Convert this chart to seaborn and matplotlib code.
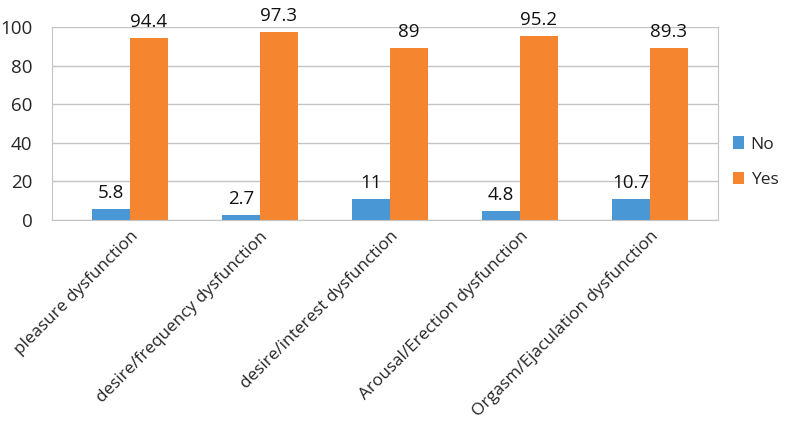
import pandas as pd
import seaborn as sns
import matplotlib.pyplot as plt

# data
categories = ["pleasure dysfunction", "desire/frequency dysfunction",
              "desire/interest dysfunction", "Arousal/Erection dysfunction",
              "Orgasm/Ejaculation dysfunction"]
no_values = [5.8, 2.7, 11, 4.8, 10.7]
yes_values = [94.4, 97.3, 89, 95.2, 89.3]
no_labels = ["5.8", "2.7", "11", "4.8", "10.7"]
yes_labels = ["94.4", "97.3", "89", "95.2", "89.3"]

df = pd.DataFrame({
    "category": categories * 2,
    "value": no_values + yes_values,
    "answer": ["No"] * 5 + ["Yes"] * 5,
})

sns.set_style("white")
plt.rcParams["font.family"] = ["Open Sans", "DejaVu Sans"]

fig = plt.figure(figsize=(7.87, 4.23), dpi=100)
ax = fig.add_axes([0.066, 0.48, 0.846, 0.456])

palette = {"No": "#4a97d6", "Yes": "#f5862f"}
sns.barplot(data=df, x="category", y="value", hue="answer", palette=palette,
            width=0.58, saturation=1, edgecolor="none", ax=ax)

# value labels above the bars
for cont, labs in zip(ax.containers, [no_labels, yes_labels]):
    ax.bar_label(cont, labels=labs, padding=5, fontsize=13.5, color="#111111")

ax.set_ylim(0, 100)
ax.set_xlim(-0.6, 4.52)
ax.set_yticks([0, 20, 40, 60, 80, 100])
ax.yaxis.grid(True, color="#c4c4c4", linewidth=1)
ax.set_axisbelow(True)
ax.set_xlabel("")
ax.set_ylabel("")
ax.tick_params(axis="y", labelsize=13.5, length=0, pad=14)
ax.tick_params(axis="x", labelsize=12.3, length=0, pad=6)
plt.setp(ax.get_xticklabels(), rotation=45, ha="right", rotation_mode="anchor")

for side in ["left", "bottom", "right"]:
    ax.spines[side].set_color("#c4c4c4")
ax.spines["top"].set_visible(False)

leg = ax.legend(loc="center left", bbox_to_anchor=(1.0, 0.3), frameon=False,
                fontsize=12.5, handlelength=0.6, handleheight=0.7,
                labelspacing=1.1, handletextpad=0.4)

fig.savefig("out.png", dpi=100)
